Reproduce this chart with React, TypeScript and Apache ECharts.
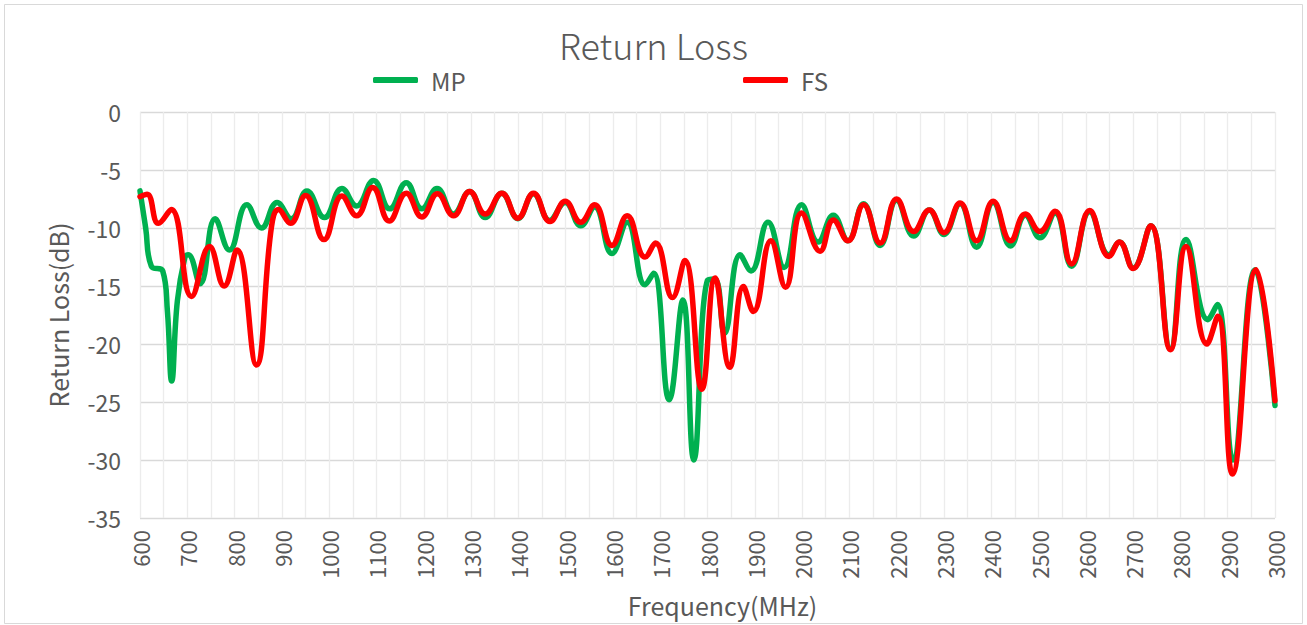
import React, { useEffect, useRef } from "react";
import * as echarts from "echarts";

// Frequency (MHz) and return loss (dB)
const mpFreq = [600, 612, 624, 648, 658, 667, 679, 695, 702, 727, 759, 789, 826, 857, 890, 920, 953, 990, 1027, 1058, 1094, 1128, 1163, 1196, 1228, 1263, 1297, 1330, 1365, 1399, 1432, 1466, 1499, 1532, 1561, 1598, 1630, 1668, 1686, 1719, 1748, 1771, 1800, 1816, 1836, 1869, 1892, 1928, 1962, 1999, 2034, 2066, 2097, 2130, 2165, 2200, 2236, 2269, 2300, 2334, 2369, 2404, 2441, 2472, 2503, 2535, 2570, 2608, 2649, 2671, 2700, 2737, 2779, 2812, 2858, 2878, 2911, 2958, 3000];
const mpLoss = [-6.8, -10.0, -13.3, -13.7, -17.2, -23.2, -16.3, -12.5, -12.3, -14.8, -9.2, -11.9, -8.0, -10.0, -7.8, -9.2, -6.8, -9.1, -6.6, -8.1, -5.9, -8.35, -6.1, -8.35, -6.6, -8.8, -6.85, -9.1, -7.0, -9.2, -7.05, -9.35, -7.8, -9.8, -8.2, -12.2, -9.5, -14.9, -13.9, -24.8, -16.2, -30.0, -14.5, -14.4, -19.1, -12.3, -13.7, -9.5, -13.4, -8.0, -11.2, -8.9, -11.1, -7.9, -11.5, -7.6, -10.7, -8.45, -10.55, -7.9, -11.65, -7.8, -11.55, -8.9, -10.85, -8.7, -13.3, -8.6, -12.3, -11.2, -13.45, -9.8, -20.4, -11.0, -17.9, -16.6, -30.0, -13.6, -25.3];

const fsFreq = [600, 615, 639, 666, 709, 747, 778, 805, 846, 878, 893, 918, 950, 989, 1027, 1058, 1092, 1127, 1163, 1196, 1229, 1263, 1297, 1330, 1365, 1399, 1432, 1467, 1499, 1532, 1561, 1598, 1630, 1668, 1690, 1726, 1752, 1788, 1816, 1847, 1876, 1897, 1934, 1965, 1999, 2038, 2066, 2097, 2130, 2165, 2200, 2236, 2269, 2300, 2334, 2369, 2404, 2441, 2472, 2503, 2535, 2570, 2608, 2649, 2671, 2700, 2737, 2779, 2812, 2856, 2879, 2910, 2960, 3000];
const fsLoss = [-7.3, -7.1, -9.6, -8.4, -15.9, -11.6, -15.0, -11.9, -21.8, -9.9, -8.4, -9.6, -7.2, -11.0, -7.25, -8.95, -6.5, -9.4, -7.0, -9.05, -7.05, -8.95, -6.85, -8.8, -7.0, -9.15, -7.0, -9.45, -7.7, -9.5, -8.0, -11.5, -8.95, -12.5, -11.3, -16.0, -12.8, -23.9, -14.3, -22.0, -15.05, -17.2, -11.1, -15.1, -8.7, -12.0, -9.3, -11.1, -8.0, -11.3, -7.5, -10.3, -8.45, -10.4, -7.85, -11.1, -7.7, -11.1, -8.8, -10.3, -8.55, -13.1, -8.5, -12.45, -11.2, -13.5, -9.8, -20.5, -11.6, -20.0, -17.6, -31.2, -13.6, -24.9];

const seriesNames = ["MP", "FS"];
const seriesColors = ["#00B050", "#FF0000"];
const xRange = [600, 3000];
const yRange = [-35, 0];

const FONT = '"Noto Sans CJK SC", "Noto Sans", sans-serif';
const TEXT = "#595959";

export default function App() {
  const ref = useRef<HTMLDivElement>(null);
  useEffect(() => {
    if (!ref.current) return;
    const chart = echarts.init(ref.current, null, { renderer: "svg" });
    const mp = mpFreq.map((f, i) => [f, mpLoss[i]]);
    const fs = fsFreq.map((f, i) => [f, fsLoss[i]]);
    const legendBase = {
      top: 68,
      padding: 0,
      itemWidth: 45,
      itemHeight: 6,
      textStyle: { fontFamily: FONT, fontSize: 24, color: TEXT, padding: [0, 0, 0, 8] },
    };
    chart.setOption({
      animation: false,
      backgroundColor: "#ffffff",
      textStyle: { fontFamily: FONT },
      title: {
        text: "Return Loss",
        left: "center",
        top: 26,
        padding: 0,
        textStyle: { fontFamily: FONT, fontSize: 36, fontWeight: 300, color: TEXT },
      },
      legend: [
        { ...legendBase, data: [{ name: seriesNames[0], icon: "roundRect" }], left: 373 },
        { ...legendBase, data: [{ name: seriesNames[1], icon: "roundRect" }], left: 743 },
      ],
      graphic: [
        {
          type: "rect",
          shape: { x: 4.5, y: 4.5, width: 1298, height: 619 },
          style: { fill: "none", stroke: "#d9d9d9", lineWidth: 1 },
          silent: true,
        },
      ],
      grid: { left: 140, right: 32, top: 112, bottom: 107, containLabel: false },
      xAxis: {
        type: "value",
        min: xRange[0],
        max: xRange[1],
        interval: 100,
        name: "Frequency(MHz)",
        nameLocation: "middle",
        nameGap: 74,
        nameTextStyle: { fontFamily: FONT, fontSize: 25, color: TEXT, padding: [0, 0, 0, 30] },
        axisLine: { show: false },
        axisTick: { show: false },
        axisLabel: {
          rotate: 90,
          margin: 12,
          fontFamily: FONT,
          fontSize: 22,
          color: TEXT,
          formatter: (v: number) => String(v),
        },
        splitLine: { show: true, lineStyle: { color: "#ececec", width: 1.3 } },
        minorTick: { show: false, splitNumber: 2 },
        minorSplitLine: { show: true, lineStyle: { color: "#ececec", width: 1.3 } },
      },
      yAxis: {
        type: "value",
        min: yRange[0],
        max: yRange[1],
        interval: 5,
        name: "Return Loss(dB)",
        nameLocation: "middle",
        nameGap: 70,
        nameTextStyle: { fontFamily: FONT, fontSize: 25, color: TEXT },
        axisLine: { show: false },
        axisTick: { show: false },
        axisLabel: { margin: 19, fontFamily: FONT, fontSize: 23, color: TEXT, formatter: (v: number) => String(v) },
        splitLine: { show: true, lineStyle: { color: "#d9d9d9", width: 1.3 } },
      },
      series: [
        {
          name: seriesNames[0],
          type: "line",
          data: mp,
          smooth: 0.45,
          showSymbol: false,
          symbol: "none",
          lineStyle: { color: seriesColors[0], width: 5.5, cap: "round", join: "round" },
          itemStyle: { color: seriesColors[0] },
        },
        {
          name: seriesNames[1],
          type: "line",
          data: fs,
          smooth: 0.45,
          showSymbol: false,
          symbol: "none",
          lineStyle: { color: seriesColors[1], width: 5.5, cap: "round", join: "round" },
          itemStyle: { color: seriesColors[1] },
        },
      ],
    });
    return () => chart.dispose();
  }, []);
  return (
    <div
      ref={ref}
      style={{ position: "fixed", left: 0, top: 0, width: 1307, height: 625 }}
    />
  );
}
